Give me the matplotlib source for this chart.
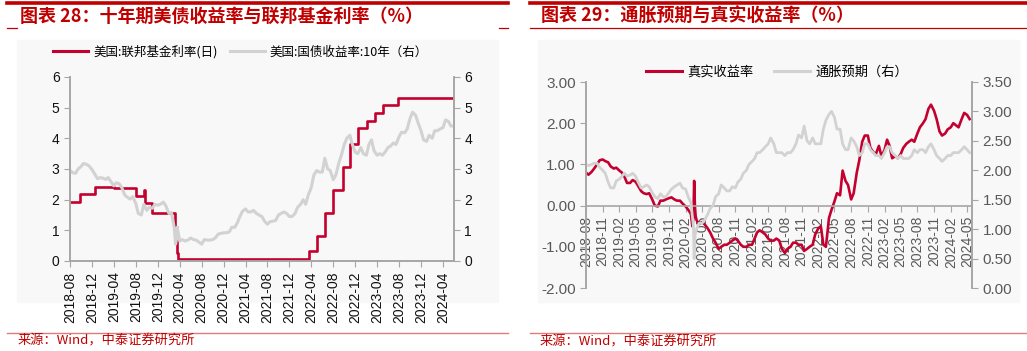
import numpy as np
import pandas as pd
import matplotlib
matplotlib.use('Agg')
import matplotlib.pyplot as plt
import matplotlib.dates as mdates
from matplotlib.lines import Line2D
from matplotlib.patches import Rectangle

plt.rcParams['font.family'] = ['Liberation Sans', 'Noto Sans CJK SC', 'DejaVu Sans']
CJK = ['Noto Sans CJK SC', 'DejaVu Sans']

# ---------------- data ----------------
# fed funds rate, change points (steps)
fed_dates = ['2018-08-01', '2018-09-27', '2018-12-20', '2019-03-01', '2019-04-01', '2019-08-01',
             '2019-09-16', '2019-09-19', '2019-10-31', '2020-03-04', '2020-03-16', '2020-03-25',
             '2020-05-01', '2021-06-17', '2022-03-17', '2022-05-05', '2022-06-16', '2022-07-28',
             '2022-09-22', '2022-11-03', '2022-12-15', '2023-02-02', '2023-03-23', '2023-05-04',
             '2023-07-27', '2024-06-01']
fed_rate = [1.91, 2.18, 2.40, 2.41, 2.38, 2.13,
            2.30, 1.90, 1.55, 1.10, 0.25, 0.05,
            0.06, 0.08, 0.33, 0.83, 1.58, 2.33,
            3.08, 3.83, 4.33, 4.58, 4.83, 5.08,
            5.33, 5.33]

# US 10y treasury yield, 1st and 15th of each month, 2018-08 .. 2024-06
ust10 = [2.96, 2.88, 2.86, 3.00, 3.08, 3.18, 3.15, 3.10, 2.98, 2.85,
         2.68, 2.72, 2.70, 2.66, 2.72, 2.60, 2.45, 2.55, 2.52, 2.40, 2.15, 2.08,
         2.02, 2.10, 1.88, 1.55, 1.50, 1.85, 1.65, 1.75, 1.72, 1.85, 1.82, 1.85,
         1.92, 1.80, 1.55, 1.58, 1.10, 0.75, 0.65, 0.70, 0.65, 0.68, 0.75, 0.70,
         0.68, 0.62, 0.55, 0.70, 0.68, 0.68, 0.70, 0.75, 0.88, 0.90, 0.92, 0.92,
         0.95, 1.10, 1.10, 1.25, 1.45, 1.62, 1.70, 1.60, 1.60, 1.65, 1.55, 1.50,
         1.45, 1.30, 1.20, 1.28, 1.30, 1.32, 1.50, 1.55, 1.60, 1.55, 1.45, 1.45,
         1.55, 1.75, 1.85, 2.00, 1.85, 2.15, 2.40, 2.80, 2.95, 2.90, 2.90, 3.35,
         3.00, 2.95, 2.65, 2.80, 3.20, 3.45, 3.80, 4.00, 4.10, 3.80, 3.55, 3.50,
         3.70, 3.50, 3.45, 3.80, 3.95, 3.60, 3.45, 3.50, 3.45, 3.55, 3.70, 3.75,
         3.85, 3.80, 4.05, 4.20, 4.18, 4.30, 4.65, 4.85, 4.75, 4.50, 4.25, 3.95,
         3.90, 4.10, 4.00, 4.25, 4.25, 4.30, 4.35, 4.60, 4.55, 4.40, 4.40, 4.30]
ust10_extra_dates = ['2020-03-09', '2020-03-18']
ust10_extra = [0.55, 1.10]

# 10y TIPS real yield, 1st and 15th of each month, 2018-08 .. 2024-05
real_yield = [0.80, 0.75, 0.82, 0.90, 1.00, 1.10, 1.12, 1.08, 1.05, 0.95,
              0.90, 0.92, 0.85, 0.80, 0.70, 0.55, 0.55, 0.62, 0.58, 0.48, 0.35, 0.30,
              0.28, 0.30, 0.15, 0.00, -0.02, 0.12, 0.12, 0.15, 0.18, 0.20, 0.15, 0.12,
              0.12, 0.05, -0.02, -0.10, -0.20, -0.30, -0.35, -0.45, -0.40, -0.45, -0.55, -0.65,
              -0.80, -0.90, -1.05, -1.00, -0.95, -0.95, -0.90, -0.85, -0.80, -0.85, -0.95, -1.00,
              -1.00, -0.95, -0.95, -0.80, -0.65, -0.60, -0.65, -0.70, -0.80, -0.85, -0.85, -0.80,
              -0.85, -1.05, -1.15, -1.05, -1.00, -0.90, -0.90, -0.95, -0.95, -1.10, -1.05, -1.00,
              -0.95, -0.70, -0.55, -0.50, -0.95, -1.00, -0.30, -0.10, 0.10, 0.30, 0.25, 0.85,
              0.60, 0.50, 0.15, 0.30, 0.80, 1.10, 1.55, 1.70, 1.70, 1.40, 1.30, 1.25,
              1.45, 1.20, 1.35, 1.60, 1.45, 1.15, 1.20, 1.15, 1.25, 1.40, 1.50, 1.55,
              1.60, 1.55, 1.75, 1.90, 2.00, 2.10, 2.35, 2.45, 2.30, 2.10, 1.80, 1.70,
              1.75, 1.85, 1.90, 2.00, 1.95, 1.90, 2.10, 2.25, 2.20, 2.10]
real_extra_dates = ['2020-03-09', '2020-03-19', '2020-03-23', '2020-03-27']
real_extra = [-0.50, 0.60, 0.00, -0.25]

# 10y breakeven inflation, 1st and 15th of each month, 2018-08 .. 2024-05
breakeven = [2.10, 2.08, 2.10, 2.12, 2.12, 2.05, 2.00, 1.95, 1.80, 1.70,
             1.70, 1.82, 1.85, 1.90, 1.95, 1.90, 1.92, 1.95, 1.90, 1.80, 1.70, 1.72,
             1.75, 1.72, 1.62, 1.55, 1.52, 1.60, 1.55, 1.55, 1.62, 1.68, 1.72, 1.75,
             1.78, 1.70, 1.68, 1.55, 1.45, 1.05, 1.00, 1.10, 1.10, 1.15, 1.25, 1.35,
             1.40, 1.55, 1.60, 1.75, 1.70, 1.65, 1.65, 1.72, 1.70, 1.80, 1.85, 1.95,
             2.00, 2.10, 2.15, 2.20, 2.30, 2.30, 2.35, 2.40, 2.45, 2.55, 2.45, 2.30,
             2.30, 2.30, 2.25, 2.30, 2.30, 2.35, 2.45, 2.60, 2.55, 2.75, 2.50, 2.45,
             2.55, 2.45, 2.45, 2.45, 2.70, 2.85, 2.95, 3.00, 2.90, 2.70, 2.70, 2.45,
             2.35, 2.35, 2.55, 2.50, 2.40, 2.25, 2.30, 2.45, 2.45, 2.35, 2.30, 2.25,
             2.25, 2.20, 2.30, 2.40, 2.40, 2.30, 2.25, 2.20, 2.25, 2.20, 2.20, 2.20,
             2.25, 2.35, 2.30, 2.35, 2.35, 2.30, 2.40, 2.45, 2.35, 2.25, 2.20, 2.15,
             2.20, 2.25, 2.25, 2.30, 2.30, 2.30, 2.35, 2.40, 2.35, 2.30]
be_extra_dates = ['2020-03-19', '2020-03-24']
be_extra = [0.50, 0.90]

left_ticks = pd.date_range('2018-08-01', '2024-04-01', freq='4MS')
right_ticks = pd.date_range('2018-08-01', '2024-05-01', freq='3MS')

RED = '#c4002f'
GRAY = '#d2d2d2'
DARKRED = '#c00000'
AXGRAY = '#a6a6a6'


def series(start, vals, extra_dates, extra_vals):
    d = pd.date_range(start, periods=len(vals), freq='SMS')
    s = pd.Series(vals, index=d)
    s = pd.concat([s, pd.Series(extra_vals, index=pd.to_datetime(extra_dates))]).sort_index()
    return s


ust = series('2018-08-01', ust10, ust10_extra_dates, ust10_extra)
real = series('2018-08-01', real_yield, real_extra_dates, real_extra)
be = series('2018-08-01', breakeven, be_extra_dates, be_extra)

W, H = 1027, 351
fig = plt.figure(figsize=(W / 100, H / 100), dpi=100)


def fx(x):
    return x / W


def fy(y):
    return 1 - y / H


# panel decoration
for x0, x1 in [(17, 498), (538, 1019)]:
    fig.patches.append(Rectangle((fx(x0), fy(302)), fx(x1 - x0), fy(40) - fy(302),
                                 transform=fig.transFigure, color='#f8f8f8', zorder=-5))
for x0, x1 in [(7, 508), (530, 1027)]:
    fig.add_artist(Line2D([fx(x0), fx(x1)], [fy(3), fy(3)], color=DARKRED, lw=2.6))
    fig.add_artist(Line2D([fx(x0), fx(x1)], [fy(333), fy(333)], color='#e07b7b', lw=1.0))
for x0, x1 in [(7, 17), (499, 508), (530, 1027)]:
    fig.add_artist(Line2D([fx(x0), fx(x1)], [fy(28), fy(28)], color=DARKRED, lw=0.9))

fig.text(fx(20), fy(16), '图表 28：十年期美债收益率与联邦基金利率（%）', family=CJK,
         fontsize=13, weight='bold', color=DARKRED, va='center')
fig.text(fx(541), fy(16), '图表 29：通胀预期与真实收益率（%）', family=CJK,
         fontsize=13, weight='bold', color=DARKRED, va='center')
fig.text(fx(18), fy(341), '来源：Wind，中泰证券研究所', family=CJK, fontsize=9.5,
         color=DARKRED, va='center')
fig.text(fx(540), fy(342), '来源：Wind，中泰证券研究所', family=CJK, fontsize=9.5,
         color=DARKRED, va='center')

# ---------------- left chart ----------------
ax1 = fig.add_axes([fx(70), fy(261), fx(384), fy(77) - fy(261)])
ax1.set_facecolor('none')
ax1b = ax1.twinx()
fd = pd.to_datetime(fed_dates)
ax1.plot(fd, fed_rate, drawstyle='steps-post', color=RED, lw=1.9, zorder=2)
ax1b.plot(ust.index, ust.values, color=GRAY, lw=2.2)
xl = (pd.Timestamp('2018-08-01'), pd.Timestamp('2024-06-01'))
for a in (ax1, ax1b):
    a.set_xlim(xl)
    a.set_ylim(0, 6)
    a.set_yticks(range(7))
    a.spines['top'].set_visible(False)
    for s in ('left', 'right', 'bottom'):
        a.spines[s].set_color(AXGRAY)
        a.spines[s].set_linewidth(1.2)
    a.tick_params(colors=AXGRAY, labelcolor='#111111', labelsize=10, length=4)
ax1.set_xticks(left_ticks)
ax1.xaxis.set_major_formatter(mdates.DateFormatter('%Y-%m'))
ax1.tick_params(axis='x', rotation=90)

fig.legend([Line2D([], [], color=RED, lw=2.2), Line2D([], [], color=GRAY, lw=2.2)],
           ['美国:联邦基金利率(日)', '美国:国债收益率:10年（右）'],
           loc='center left', bbox_to_anchor=(fx(53), fy(52)), ncol=2, frameon=False,
           prop={'family': CJK, 'size': 9}, handlelength=2.8, columnspacing=1.0,
           borderpad=0, borderaxespad=0, handletextpad=0.4)

# ---------------- right chart ----------------
ax2 = fig.add_axes([fx(586), fy(288), fx(386), fy(82) - fy(288)])
ax2.set_facecolor('none')
ax2b = ax2.twinx()
ax2.plot(real.index, real.values, color=RED, lw=1.9)
ax2b.plot(be.index, be.values, color=GRAY, lw=2.0)
xr = (pd.Timestamp('2018-08-01'), pd.Timestamp('2024-05-28'))
ax2.set_ylim(-2, 3)
ax2.set_yticks(np.arange(-2, 3.1, 1))
ax2b.set_ylim(0, 3.5)
ax2b.set_yticks(np.arange(0, 3.51, 0.5))
for a in (ax2, ax2b):
    a.set_xlim(xr)
    a.yaxis.set_major_formatter(plt.FormatStrFormatter('%.2f'))
    a.spines['top'].set_visible(False)
    for s in ('left', 'right', 'bottom'):
        a.spines[s].set_color(AXGRAY)
        a.spines[s].set_linewidth(1.2)
    a.tick_params(colors=AXGRAY, labelcolor='#595959', labelsize=11, length=4)
ax2.spines['bottom'].set_position(('data', 0))
ax2b.spines['bottom'].set_visible(False)
ax2.set_xticks(right_ticks)
ax2.xaxis.set_major_formatter(mdates.DateFormatter('%Y-%m'))
ax2.tick_params(axis='x', rotation=90, labelsize=10)

fig.legend([Line2D([], [], color=RED, lw=2.2), Line2D([], [], color=GRAY, lw=2.2)],
           ['真实收益率', '通胀预期（右）'],
           loc='center left', bbox_to_anchor=(fx(646), fy(72)), ncol=2, frameon=False,
           prop={'family': CJK, 'size': 9.5}, handlelength=2.7, columnspacing=1.6,
           borderpad=0, borderaxespad=0, handletextpad=0.4)

fig.savefig('out.png', dpi=100)
